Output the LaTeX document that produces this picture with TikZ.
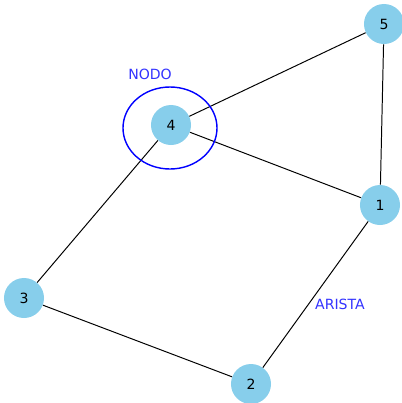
\documentclass[tikz,border=0pt]{standalone}
\usepackage{fontspec}
\setmainfont{DejaVu Sans}
\usepackage{tikz}
\definecolor{skyblue}{HTML}{87CEEB}

\begin{document}
\begin{tikzpicture}[x=0.025cm, y=-0.025cm, inner sep=0mm,
  vert/.style={circle, fill=skyblue, minimum size=1cm, font=\fontsize{10}{12}\selectfont},
  lbl/.style={text=blue!80, font=\fontsize{10}{12}\selectfont}]
\useasboundingbox (0,0) rectangle (402,403);
\node (v5) at (384,24) [vert] {5};
\node (v4) at (171,125) [vert] {4};
\node (v1) at (380,205) [vert] {1};
\node (v3) at (24,298) [vert] {3};
\node (v2) at (251,384) [vert] {2};
\draw[line width=0.7pt] (v5) -- (v4);
\draw[line width=0.7pt] (v5) -- (v1);
\draw[line width=0.7pt] (v4) -- (v1);
\draw[line width=0.7pt] (v4) -- (v3);
\draw[line width=0.7pt] (v3) -- (v2);
\draw[line width=0.7pt] (v2) -- (v1);
\draw[blue, line width=1pt] (170,128) ellipse [x radius=47, y radius=41];
\node (nodo) at (150,74) [lbl] {NODO};
\node (arista) at (340,304) [lbl] {ARISTA};
\end{tikzpicture}
\end{document}
